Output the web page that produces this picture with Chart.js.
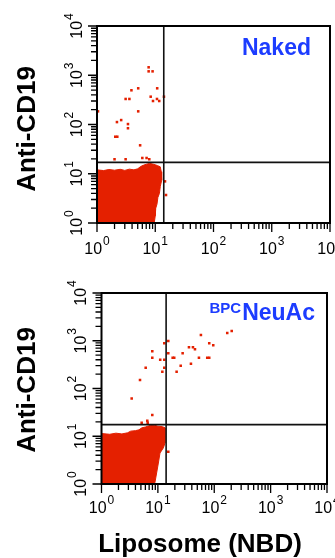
<!DOCTYPE html>
<html>
<head>
<meta charset="utf-8">
<script src="https://cdn.jsdelivr.net/npm/chart.js@4.4.1/dist/chart.umd.min.js"></script>
<style>
html,body{margin:0;padding:0;background:#fff;}
#wrap{position:relative;width:335px;height:558px;overflow:hidden;}
canvas{position:absolute;left:0;}
#top{top:0;}
#bottom{top:279px;}
</style>
</head>
<body>
<div id="wrap">
<canvas id="top" width="335" height="279"></canvas>
<canvas id="bottom" width="335" height="279"></canvas>
</div>
<script>
// axis decades (both axes, both panels)
const decades = [1, 10, 100, 1000, 10000];
const decadeExp = ['0', '1', '2', '3', '4'];

// quadrant gates [x, y]
const nakedGate = [14, 17];
const neuGate = [14, 17.5];

// Naked panel: sparse events
const nakedDotsX = [7.7, 7.7, 9.0, 3.9, 5.1, 10.8, 3.1, 3.6, 8.35, 9.15, 10.7, 11.7, 14.1, 1.04, 5.1, 2.6, 2.2, 3.4, 3.4, 2.06, 2.23, 5.5, 2.0, 3.1, 6.0, 7.1, 7.9, 14.7, 15.3];
const nakedDotsY = [1450, 1200, 1200, 495, 543, 543, 330, 330, 367, 300, 330, 300, 367, 185, 185, 123, 112, 102, 84, 56.5, 56.5, 37.8, 19.7, 19.7, 20.9, 20.9, 19.7, 7.0, 3.7];
// Naked panel: outline of the dense population
const nakedBlobX = [1, 1, 1.3, 1.6, 2.0, 2.5, 3.0, 3.6, 4.3, 5.0, 5.6, 6.2, 7.0, 8.0, 9.0, 10.0, 11.0, 12.2, 12.7, 12.9, 12.2, 11.8, 11.1, 10.7, 10.2, 10.0, 9.6];
const nakedBlobY = [1, 12.0, 11.6, 12.2, 11.8, 12.3, 11.7, 12.4, 12.0, 12.6, 14.0, 14.8, 15.6, 16.2, 15.8, 15.2, 14.6, 13.8, 11.0, 7.4, 5.5, 4.0, 3.3, 2.4, 2.0, 1.4, 1];

// BPC-NeuAc panel: sparse events
const neuDotsX = [204, 170, 58, 81.5, 96, 35.6, 41.9, 45.5, 15.3, 13.0, 7.96, 15.3, 27.5, 7.96, 11.0, 13.0, 18.3, 19.5, 53.5, 75.1, 81.5, 6.08, 13.0, 25.4, 38.6, 12.0, 21.5, 4.82, 3.43, 7.96, 6.49, 5.16, 6.59, 15.3];
const neuDotsY = [1600, 1450, 1320, 885, 805, 730, 730, 662, 990, 885, 600, 546, 546, 441, 400, 400, 441, 441, 441, 441, 441, 273, 273, 300, 331, 225, 225, 151, 62, 28, 21.2, 19.2, 19.2, 4.75];
// BPC-NeuAc panel: outline of the dense population
const neuBlobX = [1, 1, 1.4, 1.8, 2.3, 2.9, 3.3, 4.0, 4.6, 5.2, 6.0, 6.8, 7.6, 8.8, 10.0, 12.0, 13.4, 13.4, 12.5, 10.9, 10.2, 9.5, 8.9, 8.7];
const neuBlobY = [1, 11.4, 11.0, 11.6, 11.2, 11.8, 12.8, 13.1, 13.6, 15.0, 15.6, 16.4, 17.2, 17.0, 16.2, 15.9, 15.0, 7.2, 5.7, 4.45, 2.75, 1.7, 1.1, 1];

const RED = '#e42000';
const BLUE = '#1c3cff';
const FONT = '"Liberation Sans", Arial, Helvetica, sans-serif';

function pts(xs, ys) {
  return xs.map((v, i) => ({x: v, y: ys[i]}));
}

function expLabel(ctx, exp, cx, baseY) {
  ctx.font = '16px ' + FONT;
  const w1 = ctx.measureText('10').width;
  ctx.font = '12px ' + FONT;
  const w2 = ctx.measureText(exp).width;
  const x0 = cx - (w1 + 1 + w2) / 2;
  ctx.font = '16px ' + FONT;
  ctx.fillText('10', x0, baseY);
  ctx.font = '12px ' + FONT;
  ctx.fillText(exp, x0 + w1 + 1, baseY - 9.5);
}

const flowAxes = {
  id: 'flowAxes',
  afterDatasetsDraw(chart, args, opts) {
    const {ctx, chartArea: a} = chart;
    const sx = chart.scales.x, sy = chart.scales.y;
    ctx.save();
    ctx.strokeStyle = '#000';
    ctx.lineWidth = 2;
    ctx.strokeRect(a.left, a.top, a.right - a.left, a.bottom - a.top);

    // log ticks
    ctx.lineWidth = 1.3;
    ctx.beginPath();
    const last = decades[decades.length - 1];
    decades.forEach(d => {
      for (let m = 1; m < 10; m++) {
        const v = d * m;
        if (v > last) break;
        const len = m === 1 ? 9 : 6;
        const px = sx.getPixelForValue(v);
        ctx.moveTo(px, a.bottom);
        ctx.lineTo(px, a.bottom + len);
        const py = sy.getPixelForValue(v);
        ctx.moveTo(a.left, py);
        ctx.lineTo(a.left - len, py);
      }
    });
    ctx.stroke();

    // tick labels
    ctx.fillStyle = '#000';
    ctx.textAlign = 'left';
    ctx.textBaseline = 'alphabetic';
    decades.forEach((d, i) => {
      expLabel(ctx, decadeExp[i], sx.getPixelForValue(d), a.bottom + opts.xLabelGap);
      ctx.save();
      ctx.translate(a.left - opts.yLabelGap, sy.getPixelForValue(d));
      ctx.rotate(-Math.PI / 2);
      expLabel(ctx, decadeExp[i], 0, 0);
      ctx.restore();
    });

    // axis titles
    ctx.font = 'bold 26px ' + FONT;
    ctx.textAlign = 'center';
    ctx.save();
    ctx.translate(opts.yTitle[0], opts.yTitle[1]);
    ctx.rotate(-Math.PI / 2);
    ctx.fillText('Anti-CD19', 0, 0);
    ctx.restore();
    if (opts.xTitle) {
      ctx.fillText('Liposome (NBD)', opts.xTitle[0], opts.xTitle[1]);
    }

    // panel label
    ctx.fillStyle = BLUE;
    ctx.textAlign = 'right';
    ctx.font = 'bold 23px ' + FONT;
    ctx.fillText(opts.label, opts.labelPos[0], opts.labelPos[1]);
    if (opts.prefix) {
      const w = ctx.measureText(opts.label).width;
      ctx.font = 'bold 15px ' + FONT;
      ctx.fillText(opts.prefix, opts.labelPos[0] - w - 1, opts.labelPos[1] - 7);
    }
    ctx.restore();
  }
};

function makePanel(id, dots, blob, gate, layout, axisOpts) {
  const gateStyle = {showLine: true, borderColor: '#111', borderWidth: 1.6, pointRadius: 0};
  return new Chart(document.getElementById(id), {
    type: 'scatter',
    data: {
      datasets: [
        Object.assign({data: [{x: gate[0], y: 1}, {x: gate[0], y: 10000}]}, gateStyle),
        Object.assign({data: [{x: 1, y: gate[1]}, {x: 10000, y: gate[1]}]}, gateStyle),
        {
          data: dots,
          pointStyle: 'rect',
          pointRadius: 1.8,
          backgroundColor: RED,
          borderWidth: 0
        },
        {
          data: blob,
          showLine: true,
          fill: 'shape',
          backgroundColor: RED,
          borderColor: RED,
          borderWidth: 1,
          pointRadius: 0,
          tension: 0
        }
      ]
    },
    options: {
      responsive: false,
      animation: false,
      devicePixelRatio: 1,
      events: [],
      layout: {padding: layout.pad},
      plugins: {
        legend: {display: false},
        tooltip: {enabled: false},
        flowAxes: axisOpts
      },
      scales: {
        x: {
          type: 'logarithmic', min: 1, max: 10000,
          grid: {display: false}, border: {display: false}, ticks: {display: false},
          afterFit: s => { s.height = layout.xHeight; }
        },
        y: {
          type: 'logarithmic', min: 1, max: 10000,
          grid: {display: false}, border: {display: false}, ticks: {display: false},
          afterFit: s => { s.width = layout.yWidth; }
        }
      }
    },
    plugins: [flowAxes]
  });
}

makePanel('top',
  pts(nakedDotsX, nakedDotsY), pts(nakedBlobX, nakedBlobY), nakedGate,
  {pad: {left: 0, top: 26, right: 5, bottom: 0}, xHeight: 56, yWidth: 97},
  {xLabelGap: 31, yLabelGap: 15, yTitle: [35, 129], xTitle: null, label: 'Naked', labelPos: [311, 55]});

makePanel('bottom',
  pts(neuDotsX, neuDotsY), pts(neuBlobX, neuBlobY), neuGate,
  {pad: {left: 0, top: 14, right: 8, bottom: 0}, xHeight: 74, yWidth: 101.5},
  {xLabelGap: 29, yLabelGap: 16, yTitle: [35, 111], xTitle: [200, 273], label: 'NeuAc', prefix: 'BPC', labelPos: [315, 41]});
</script>
</body>
</html>
